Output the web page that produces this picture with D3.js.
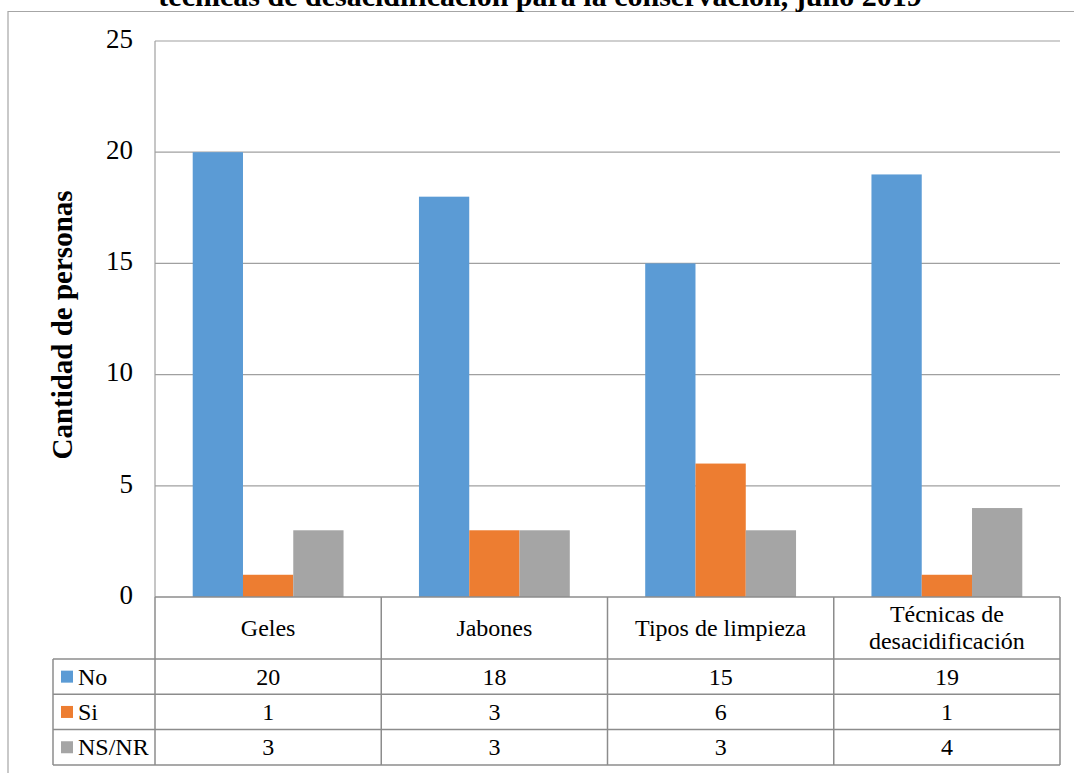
<!DOCTYPE html>
<html>
<head>
<meta charset="utf-8">
<script src="https://cdn.jsdelivr.net/npm/d3@7"></script>
<style>
  html, body { margin: 0; padding: 0; background: #fff; }
  svg { display: block; }
  text { font-family: "Liberation Serif", "Times New Roman", serif; fill: #000; }
</style>
</head>
<body>
<svg id="chart" width="1074" height="773"></svg>
<script>
// Survey answers per topic
const categories = ["Geles", "Jabones", "Tipos de limpieza", "Técnicas de desacidificación"];
const categoryLines = [["Geles"], ["Jabones"], ["Tipos de limpieza"], ["Técnicas de", "desacidificación"]];
const series = ["No", "Si", "NS/NR"];
const noValues = [20, 18, 15, 19];
const siValues = [1, 3, 6, 1];
const nsnrValues = [3, 3, 3, 4];
const yTicks = [0, 5, 10, 15, 20, 25];
const colors = ["#5b9bd5", "#ed7d31", "#a5a5a5"];
const titleText = "técnicas de desacidificación para la conservación, julio 2019";
const yLabel = "Cantidad de personas";

const seriesValues = [noValues, siValues, nsnrValues];

const svg = d3.select("#chart");
const plot = { left: 155, right: 1060, top: 41, bottom: 597 };
const table = { left: 53, headerBottom: 659, rowH: 35.3 };
const tableFont = 24;

// Chart frame
svg.append("path")
  .attr("d", `M8,773 V11.5 H1074`)
  .attr("fill", "none").attr("stroke", "#a6a6a6").attr("stroke-width", 1.2);

// Title (its upper part runs past the top of the frame)
svg.append("text")
  .attr("x", 540).attr("y", 6)
  .attr("text-anchor", "middle")
  .attr("font-size", 30).attr("font-weight", "bold")
  .text(titleText);

const x0 = d3.scaleBand().domain(categories).range([plot.left, plot.right]);
const x1 = d3.scaleBand().domain(series).range([0, x0.bandwidth()]).paddingOuter(0.75);
const y = d3.scaleLinear().domain([0, 25]).range([plot.bottom, plot.top]);

// Gridlines
svg.append("g").selectAll("line").data(yTicks.filter(d => d > 0)).join("line")
  .attr("x1", plot.left).attr("x2", plot.right)
  .attr("y1", d => y(d)).attr("y2", d => y(d))
  .attr("stroke", "#a0a0a0").attr("stroke-width", 1.2);

// Y axis line
svg.append("line")
  .attr("x1", plot.left).attr("x2", plot.left)
  .attr("y1", plot.top).attr("y2", plot.bottom)
  .attr("stroke", "#a0a0a0").attr("stroke-width", 1.2);

// Y tick labels
svg.append("g").selectAll("text").data(yTicks).join("text")
  .attr("x", 133).attr("y", d => y(d))
  .attr("dy", "0.25em")
  .attr("text-anchor", "end")
  .attr("font-size", 27)
  .text(d => d);

// Y axis title
svg.append("text")
  .attr("transform", `translate(62,${325}) rotate(-90)`)
  .attr("text-anchor", "middle")
  .attr("dy", "0.35em")
  .attr("font-size", 29).attr("font-weight", "bold")
  .text(yLabel);

// Bars
const groups = svg.append("g").selectAll("g").data(categories).join("g")
  .attr("transform", d => `translate(${x0(d)},0)`);
groups.selectAll("rect")
  .data((c, i) => series.map((s, j) => ({ s, v: seriesValues[j][i], j })))
  .join("rect")
  .attr("x", d => x1(d.s))
  .attr("width", x1.bandwidth())
  .attr("y", d => y(d.v))
  .attr("height", d => y(0) - y(d.v))
  .attr("fill", d => colors[d.j]);

// Data table
const tStroke = "#8c8c8c";
const tg = svg.append("g");
const rowsTop = table.headerBottom;
const tableBottom = rowsTop + series.length * table.rowH;
const colEdges = categories.map(c => x0(c)).concat([plot.right]);

// Horizontal lines
tg.append("line").attr("x1", plot.left).attr("x2", plot.right)
  .attr("y1", plot.bottom).attr("y2", plot.bottom)
  .attr("stroke", tStroke).attr("stroke-width", 1.5);
d3.range(series.length + 1).forEach(i => {
  const yy = rowsTop + i * table.rowH;
  tg.append("line").attr("x1", table.left).attr("x2", plot.right)
    .attr("y1", yy).attr("y2", yy)
    .attr("stroke", tStroke).attr("stroke-width", 1.5);
});
// Vertical lines
colEdges.forEach(xx => {
  tg.append("line").attr("x1", xx).attr("x2", xx)
    .attr("y1", plot.bottom).attr("y2", tableBottom)
    .attr("stroke", tStroke).attr("stroke-width", 1.5);
});
tg.append("line").attr("x1", table.left).attr("x2", table.left)
  .attr("y1", rowsTop).attr("y2", tableBottom)
  .attr("stroke", tStroke).attr("stroke-width", 1.5);

// Category header labels
categories.forEach((c, i) => {
  const lines = categoryLines[i];
  const cx = x0(c) + x0.bandwidth() / 2;
  const cy = (plot.bottom + rowsTop) / 2;
  const lh = 27;
  lines.forEach((ln, k) => {
    tg.append("text")
      .attr("x", cx)
      .attr("y", cy + (k - (lines.length - 1) / 2) * lh)
      .attr("dy", "0.33em")
      .attr("text-anchor", "middle")
      .attr("font-size", tableFont)
      .text(ln);
  });
});

// Legend keys and values
series.forEach((s, j) => {
  const cy = rowsTop + j * table.rowH + table.rowH / 2;
  tg.append("rect")
    .attr("x", 61).attr("y", cy - 6)
    .attr("width", 12).attr("height", 12)
    .attr("fill", colors[j]);
  tg.append("text")
    .attr("x", 78).attr("y", cy).attr("dy", "0.33em")
    .attr("font-size", tableFont)
    .text(s);
  categories.forEach((c, i) => {
    tg.append("text")
      .attr("x", x0(c) + x0.bandwidth() / 2).attr("y", cy).attr("dy", "0.33em")
      .attr("text-anchor", "middle")
      .attr("font-size", tableFont)
      .text(seriesValues[j][i]);
  });
});
</script>
</body>
</html>
